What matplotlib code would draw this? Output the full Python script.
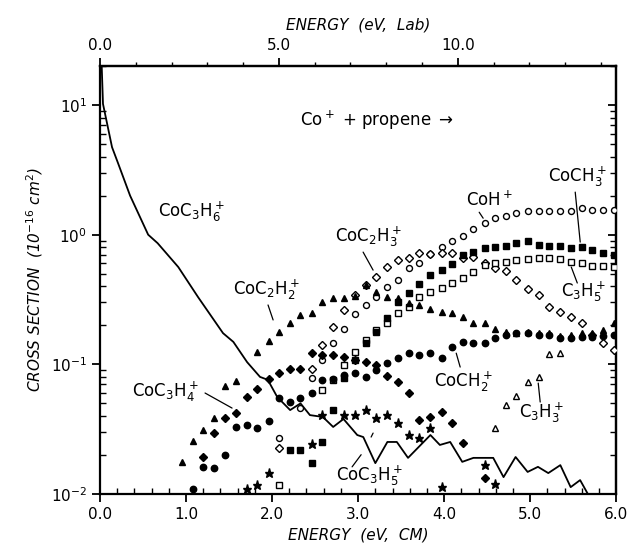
import numpy as np
import matplotlib
matplotlib.use("Agg")
import matplotlib.pyplot as plt
from matplotlib.ticker import MultipleLocator, FixedLocator, FormatStrFormatter, LogLocator, NullFormatter

nan = np.nan

# CM energy grid of the product points (eV)
energy = [0.95, 1.08, 1.20, 1.33, 1.45, 1.58, 1.71, 1.83, 1.96, 2.08,
          2.21, 2.33, 2.46, 2.58, 2.71, 2.84, 2.96, 3.09, 3.21, 3.34,
          3.46, 3.59, 3.71, 3.84, 3.97, 4.09, 4.22, 4.34, 4.47, 4.59,
          4.72, 4.84, 4.97, 5.10, 5.22, 5.35, 5.47, 5.60, 5.72, 5.85, 5.97]

coh = [nan, nan, nan, nan, nan, nan, nan, nan, nan, 0.027,
       nan, 0.046, 0.078, 0.108, 0.146, 0.187, 0.244, 0.287, 0.33, 0.395,
       0.447, 0.553, 0.604, 0.709, 0.802, 0.893, 0.975, 1.105, 1.229, 1.343,
       1.391, 1.467, 1.52, 1.52, 1.52, 1.52, 1.52, 1.60, 1.55, 1.55, 1.55]

coc2h3 = [nan, nan, nan, nan, nan, nan, nan, nan, nan, 0.0226,
          nan, nan, 0.092, 0.141, 0.194, 0.262, 0.342, 0.409, 0.471, 0.563,
          0.637, 0.66, 0.721, 0.709, 0.721, 0.721, 0.66, 0.672, 0.604, 0.553,
          0.524, 0.447, 0.381, 0.342, 0.277, 0.253, 0.232, 0.208, 0.168, 0.146, 0.129]

coch3 = [nan, nan, nan, nan, nan, nan, nan, nan, nan, nan,
         0.0218, 0.0218, 0.0173, 0.0252, 0.0444, 0.078, 0.108, 0.146, 0.177, 0.2275,
         0.302, 0.355, 0.416, 0.488, 0.533, 0.593, 0.696, 0.734, 0.788, 0.802,
         0.817, 0.861, 0.893, 0.831, 0.817, 0.817, 0.788, 0.802, 0.761, 0.721, 0.696]

c3h5 = [nan, nan, nan, nan, nan, nan, nan, nan, nan, 0.0117,
        nan, nan, nan, 0.0634, 0.0757, 0.0988, 0.124, 0.154, 0.184, 0.208,
        0.249, 0.277, 0.33, 0.361, 0.388, 0.424, 0.463, 0.515, 0.583, 0.604,
        0.615, 0.637, 0.649, 0.66, 0.66, 0.649, 0.615, 0.604, 0.573, 0.573, 0.563]

coc2h2 = [0.0177, 0.0256, 0.0311, 0.0385, 0.068, 0.0743, nan, 0.124, 0.151, 0.177,
          0.208, 0.24, 0.249, 0.302, 0.325, 0.325, 0.336, 0.409, 0.36, 0.33,
          0.325, 0.297, 0.287, 0.267, 0.253, 0.249, 0.232, 0.208, 0.208, 0.187,
          0.177, 0.174, 0.177, 0.174, 0.174, 0.165, 0.168, 0.174, 0.174, 0.184, 0.208]

coch2 = [nan, 0.0109, 0.0162, 0.0159, 0.02, 0.0329, 0.034, 0.0323, 0.0366, 0.055,
         0.0512, 0.055, 0.0601, 0.0757, 0.077, 0.0827, 0.0857, 0.0798, 0.0904, 0.1023,
         0.112, 0.122, 0.118, 0.122, 0.112, 0.136, 0.149, 0.146, 0.146, 0.16,
         0.168, 0.174, 0.174, 0.168, 0.168, 0.16, 0.16, 0.162, 0.162, 0.165, 0.168]

coc3h4 = [nan, nan, 0.0193, 0.0295, 0.0385, 0.0421, 0.056, 0.0645, 0.077, 0.0857,
          0.092, 0.092, 0.122, 0.118, 0.118, 0.114, 0.108, 0.104, 0.0988, 0.0813,
          0.073, 0.0601, 0.0372, 0.0392, 0.0429, 0.0353, 0.0247, nan, 0.0133, nan,
          nan, nan, nan, nan, nan, nan, nan, nan, nan, nan, nan]

c3h3 = [nan, nan, nan, nan, nan, nan, nan, nan, nan, nan,
        nan, nan, nan, nan, nan, nan, nan, nan, nan, nan,
        nan, nan, nan, nan, nan, nan, nan, nan, nan, 0.0323,
        0.0486, 0.0569, 0.073, 0.0798, 0.12, 0.122, nan, nan, nan, nan, nan]

coc3h5 = [nan, nan, nan, nan, nan, nan, 0.0109, 0.0117, 0.0145, nan,
          nan, nan, 0.0243, 0.0406, nan, 0.0406, 0.0406, 0.0444, 0.0385, 0.0406,
          0.0353, 0.0285, 0.027, 0.0323, 0.0113, nan, nan, nan, 0.0167, 0.0119,
          nan, nan, nan, nan, nan, nan, nan, nan, nan, nan, nan]

# CoC3H6+ (adduct) drawn as a line
line_e = [0.02, 0.035, 0.14, 0.21, 0.35, 0.56, 0.67, 0.91, 1.14, 1.43, 1.55, 1.71,
          1.86, 1.95, 2.06, 2.21, 2.33, 2.44, 2.59, 2.71, 2.83, 2.99, 3.06, 3.20,
          3.34, 3.45, 3.58, 3.84, 3.95, 4.07, 4.21, 4.34, 4.57, 4.69, 4.83, 4.97,
          5.09, 5.21, 5.35, 5.47, 5.58, 5.67]
line_s = [20.0, 10.2, 4.73, 3.56, 2.0, 1.0, 0.86, 0.563, 0.33, 0.174, 0.149, 0.104,
          0.080, 0.076, 0.056, 0.0444, 0.050, 0.0406, 0.0393, 0.0329, 0.0379, 0.0285,
          0.0275, 0.0173, 0.0252, 0.0252, 0.0190, 0.0285, 0.0239, 0.0252, 0.0177,
          0.0190, 0.0190, 0.0135, 0.0193, 0.0148, 0.0162, 0.0145, 0.0167, 0.0113,
          0.0128, 0.0100]

lab_per_cm = 101.0 / 42.0

plt.rcParams['font.family'] = ['DejaVu Sans']
fig = plt.figure(figsize=(6.3, 5.5), dpi=100)
ax = fig.add_axes([0.1587, 0.1018, 0.8195, 0.7782])

ax.plot(line_e, line_s, color='black', lw=1.3, zorder=2)

E = np.array(energy)
kw_open = dict(ls='none', mfc='white', mec='black', mew=1.0, zorder=3)
kw_fill = dict(ls='none', mfc='black', mec='black', zorder=3)
ax.plot(E, coh, 'o', ms=4.3, **kw_open)
ax.plot(E, coc2h3, 'D', ms=4.0, **kw_open)
ax.plot(E, c3h5, 's', ms=4.0, **kw_open)
ax.plot(E, c3h3, '^', ms=4.5, **kw_open)
ax.plot(E, coch3, 's', ms=4.2, **kw_fill)
ax.plot(E, coc2h2, '^', ms=5.0, **kw_fill)
ax.plot(E, coch2, 'o', ms=4.6, **kw_fill)
ax.plot(E, coc3h4, 'D', ms=4.5, **kw_fill)
ax.plot(E, coc3h5, '*', ms=6.5, **kw_fill)

ax.set_yscale('log')
ax.set_xlim(0, 6.0)
ax.set_ylim(0.01, 20)

ax.xaxis.set_major_locator(MultipleLocator(1.0))
ax.xaxis.set_minor_locator(MultipleLocator(0.2))
ax.xaxis.set_major_formatter(FormatStrFormatter('%.1f'))
ax.yaxis.set_major_locator(LogLocator(base=10, numticks=10))
ax.yaxis.set_minor_locator(LogLocator(base=10, subs=np.arange(2, 10), numticks=20))
ax.yaxis.set_minor_formatter(NullFormatter())
ax.tick_params(which='major', direction='out', length=6, width=1.3, labelsize=11,
               top=False, right=False)
ax.tick_params(which='minor', direction='in', length=4, width=1.0, top=False, right=False)
for s in ax.spines.values():
    s.set_linewidth(1.6)

# right-hand ticks pointing inward
ry = ax.secondary_yaxis('right', functions=(lambda v: v, lambda v: v))
ry.yaxis.set_major_locator(LogLocator(base=10, numticks=10))
ry.yaxis.set_minor_locator(LogLocator(base=10, subs=np.arange(2, 10), numticks=20))
ry.tick_params(which='major', direction='in', length=6, width=1.3, labelright=False)
ry.tick_params(which='minor', direction='in', length=4, width=1.0, labelright=False)
ry.yaxis.set_minor_formatter(NullFormatter())
ry.spines['right'].set_linewidth(1.6)

# lab energy scale on top
tx = ax.secondary_xaxis('top', functions=(lambda e: e * lab_per_cm, lambda e: e / lab_per_cm))
tx.xaxis.set_major_locator(FixedLocator([0.0, 5.0, 10.0]))
tx.xaxis.set_minor_locator(MultipleLocator(1.0))
tx.xaxis.set_major_formatter(FormatStrFormatter('%.1f'))
tx.tick_params(which='major', direction='out', length=6, width=1.3, labelsize=11)
tx.tick_params(which='minor', direction='out', length=3, width=1.0)
tx.spines['top'].set_linewidth(1.6)
tx.set_xlabel('ENERGY  (eV,  Lab)', fontsize=11, style='italic', labelpad=6)

ax.set_xlabel('ENERGY  (eV,  CM)', fontsize=11, style='italic', labelpad=4)
ax.set_ylabel(r'CROSS SECTION  (10$^{-16}$ cm$^2$)', fontsize=11, style='italic', labelpad=4)

# species labels
lab_kw = dict(fontsize=12, ha='center', va='center', zorder=5)
ax.text(1.06, 1.49, r'CoC$_3$H$_6^+$', **lab_kw)
ax.text(3.22, 7.65, r'Co$^+$ + propene $\rightarrow$', **lab_kw)
ax.text(1.94, 0.374, r'CoC$_2$H$_2^+$', **lab_kw)
ax.text(3.12, 0.955, r'CoC$_2$H$_3^+$', **lab_kw)
ax.text(4.53, 1.85, r'CoH$^+$', **lab_kw)
ax.text(5.55, 2.78, r'CoCH$_3^+$', **lab_kw)
ax.text(5.62, 0.36, r'C$_3$H$_5^+$', **lab_kw)
ax.text(4.22, 0.073, r'CoCH$_2^+$', **lab_kw)
ax.text(5.13, 0.042, r'C$_3$H$_3^+$', **lab_kw)
ax.text(0.76, 0.061, r'CoC$_3$H$_4^+$', **lab_kw)
ax.text(3.13, 0.0138, r'CoC$_3$H$_5^+$', **lab_kw)

# leader lines
lead = dict(arrowstyle='-', color='black', lw=0.9, shrinkA=0, shrinkB=0)
ax.annotate('', xy=(2.012, 0.22), xytext=(1.953, 0.287), arrowprops=lead)
ax.annotate('', xy=(3.174, 0.533), xytext=(3.058, 0.734), arrowprops=lead)
ax.annotate('', xy=(4.453, 1.34), xytext=(4.407, 1.49), arrowprops=lead)
ax.annotate('', xy=(5.581, 0.877), xytext=(5.523, 2.13), arrowprops=lead)
ax.annotate('', xy=(5.547, 0.424), xytext=(5.477, 0.563), arrowprops=lead)
ax.annotate('', xy=(4.186, 0.0953), xytext=(4.14, 0.122), arrowprops=lead)
ax.annotate('', xy=(5.116, 0.0512), xytext=(5.093, 0.0717), arrowprops=lead)
ax.annotate('', xy=(1.535, 0.046), xytext=(1.221, 0.0601), arrowprops=lead)
ax.annotate('', xy=(3.035, 0.0201), xytext=(2.93, 0.0162), arrowprops=lead)
ax.annotate('', xy=(3.174, 0.0295), xytext=(3.151, 0.0275), arrowprops=lead)

fig.savefig('out.png', dpi=100)
